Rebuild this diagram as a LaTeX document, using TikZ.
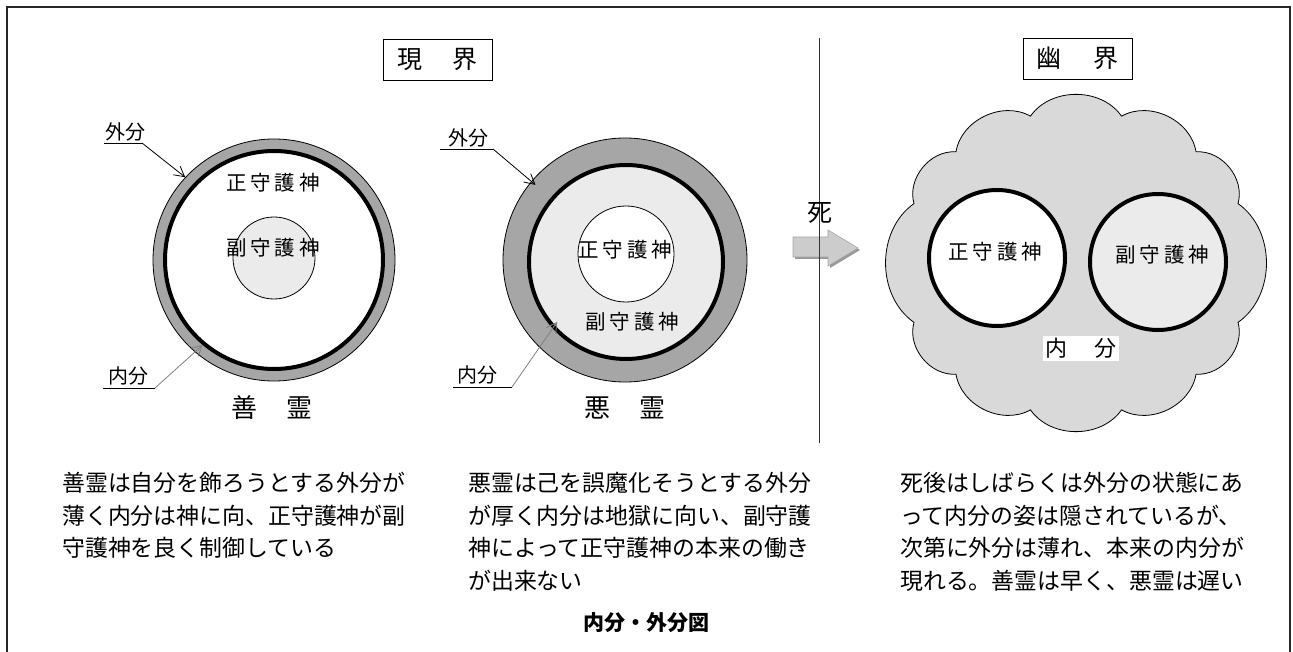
\documentclass[tikz,border=0pt]{standalone}
\usepackage{fontspec}
\setmainfont{Noto Sans CJK JP}
\usetikzlibrary{arrows.meta,calc}
\newcommand\jpsize[1]{\fontsize{#1pt}{#1pt}\selectfont}
\newcommand\cjkgap{\kern4pt}
\definecolor{ringgray}{HTML}{A6A6A6}
\definecolor{palegray}{HTML}{EBEBEB}
\definecolor{cloudgray}{HTML}{D9D9D9}
\definecolor{arrowgray}{HTML}{CCCCCC}
\begin{document}
\begin{tikzpicture}[x=1pt,y=1pt,
  titlebox/.style={draw, line width=0.8pt, minimum width=109pt, minimum height=41pt, inner sep=0pt, font=\jpsize{25}},
  disc/.style={circle, draw, line width=0.8pt, inner sep=0pt},
  ring/.style={circle, draw, line width=4pt, inner sep=0pt},
  godname/.style={font=\jpsize{20.5}, inner sep=0pt},
  tag/.style={font=\jpsize{20}, inner sep=0pt},
  leaderblack/.style={draw=black, line width=0.8pt, -{Straight Barb[length=10pt,width=11pt]}},
  leadergray/.style={draw=black!50, line width=0.8pt, -{Straight Barb[length=10pt,width=11pt]}},
  underl/.style={line width=0.8pt},
  bodytext/.style={font=\jpsize{22.9}, inner sep=0pt, anchor=base west},
  spiritname/.style={font=\jpsize{26}, inner sep=0pt},
]
\useasboundingbox (0,0) rectangle (1293,-652);
% frame
\draw[line width=1.6pt, draw=black!85] (7,-7) rectangle (1290,-680);

% titles
\node[titlebox] (genkai) at (437.5,-59.5) {現\kern30pt 界};
\node[titlebox] (yuukai) at (1077.5,-58.5) {幽\kern32pt 界};

% ---------- good spirit ----------
\node[disc, fill=ringgray, minimum size=242pt] (goodouter) at (274,-260) {};
\node[ring, fill=white, minimum size=218pt] (goodring) at (274,-260) {};
\node[disc, fill=palegray, minimum size=82pt] (goodinner) at (274,-258) {};
\node[godname] (goodsei) at (273,-183) {正\cjkgap 守\cjkgap 護\cjkgap 神};
\node[godname] (goodfuku) at (273,-248) {副\cjkgap 守\cjkgap 護\cjkgap 神};

% ---------- bad spirit ----------
\node[disc, fill=ringgray, minimum size=244pt] (badouter) at (625,-260) {};
\node[ring, fill=palegray, minimum size=194pt] (badring) at (626,-262) {};
\node[disc, fill=white, minimum size=96pt] (badinner) at (626,-254) {};
\node[godname] (badsei) at (625,-250) {正\cjkgap 守\cjkgap 護\cjkgap 神};
\node[godname] (badfuku) at (632,-322) {副\cjkgap 守\cjkgap 護\cjkgap 神};

% ---------- labels with leaders ----------
\node[tag] (gsoto) at (125,-132) {外分};
\coordinate (gsotoA) at (104,-143);
\coordinate (gsotoB) at (142,-143);
\draw[underl] (gsotoA) -- (gsotoB);
\draw[leaderblack] (gsotoB) -- (goodouter.137);

\node[tag] (gnai) at (128,-376) {内分};
\coordinate (gnaiA) at (103,-388);
\coordinate (gnaiB) at (155,-388);
\draw[underl] (gnaiA) -- (gnaiB);
\draw[leadergray] (gnaiB) -- (goodring.230);

\node[tag] (bsoto) at (468,-138) {外分};
\coordinate (bsotoA) at (440,-149);
\coordinate (bsotoB) at (493,-149);
\draw[underl] (bsotoA) -- (bsotoB);
\draw[leaderblack] (bsotoB) -- ($(badouter.center)!0.955!(badouter.140)$);

\node[tag] (bnai) at (477,-375) {内分};
\coordinate (bnaiA) at (453,-387);
\coordinate (bnaiB) at (512,-387);
\draw[underl] (bnaiA) -- (bnaiB);
\draw[leadergray] (bnaiB) -- ($(badring.center)!0.92!(badring.221)$);

\node[spiritname] (zenrei) at (272,-408) {善\kern30pt 霊};
\node[spiritname] (akurei) at (625,-408) {悪\kern30pt 霊};

% ---------- death arrow and divider ----------
\fill[black!40] (795,-239) -- (830,-239) -- (830,-232) -- (860,-250) -- (830,-268) -- (830,-259) -- (795,-259) -- cycle;
\draw[fill=arrowgray, draw=black!35, line width=0.6pt] (793,-237) -- (828,-237) -- (828,-230) -- (858,-248) -- (828,-266) -- (828,-257) -- (793,-257) -- cycle;
\coordinate (divtop) at (819,-38);
\coordinate (divbot) at (819,-443);
\draw[line width=0.9pt, draw=black!80] (divtop) -- (divbot);
\node[font=\jpsize{25}, inner sep=0pt] (shi) at (819.5,-212.5) {死};

% ---------- cloud (other world) ----------
\coordinate (cc) at (1076,-263);
\foreach \a [count=\i] in {23,47,75,105,133,157,203,227,255,285,313,337}
  \coordinate (k\i) at ($(cc)+(\a:176 and 152)$);
\draw[fill=cloudgray, line width=0.8pt, line join=round]
  (k1) to[bend right=55] (k2) to[bend right=55] (k3) to[bend right=55] (k4)
  to[bend right=55] (k5) to[bend right=55] (k6) to[bend right=55] (k7)
  to[bend right=55] (k8) to[bend right=55] (k9) to[bend right=55] (k10)
  to[bend right=55] (k11) to[bend right=55] (k12) to[bend right=55] (k1) -- cycle;
\node[ring, fill=white, minimum size=136pt] (ysei) at (997,-258) {};
\node[ring, fill=palegray, minimum size=136pt] (yfuku) at (1158,-262) {};
\node[godname] (yseit) at (995,-252) {正\cjkgap 守\cjkgap 護\cjkgap 神};
\node[godname] (yfukut) at (1162,-255) {副\cjkgap 守\cjkgap 護\cjkgap 神};
\node[fill=white, inner sep=2.5pt, font=\jpsize{22}] (ynai) at (1080.5,-348.5) {内\kern27pt 分};

% ---------- explanatory texts ----------
\node[bodytext] (l1) at (62,-491.5) {善霊は自分を飾ろうとする外分が};
\node[bodytext] (l2) at (62,-524) {薄く内分は神に向、正守護神が副};
\node[bodytext] (l3) at (62,-556.5) {守護神を良く制御している};

\node[bodytext] (m1) at (468,-491.5) {悪霊は己を誤魔化そうとする外分};
\node[bodytext] (m2) at (468,-524) {が厚く内分は地獄に向い、副守護};
\node[bodytext] (m3) at (468,-556.5) {神によって正守護神の本来の働き};
\node[bodytext] (m4) at (468,-589) {が出来ない};

\node[bodytext] (r1) at (900,-491.5) {死後はしばらくは外分の状態にあ};
\node[bodytext] (r2) at (900,-524) {って内分の姿は隠されているが、};
\node[bodytext] (r3) at (900,-556.5) {次第に外分は薄れ、本来の内分が};
\node[bodytext] (r4) at (900,-589) {現れる。善霊は早く、悪霊は遅い};

\node[font=\jpsize{21}\bfseries, inner sep=0pt] (caption) at (646,-623) {内分・外分図};
\end{tikzpicture}
\end{document}
